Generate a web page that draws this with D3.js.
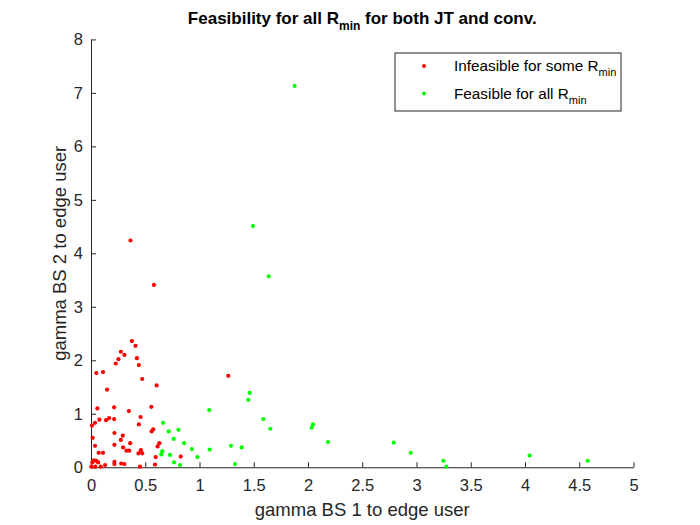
<!DOCTYPE html>
<html>
<head>
<meta charset="utf-8">
<script src="https://cdn.jsdelivr.net/npm/d3@7"></script>
<style>
  body { margin: 0; background: #fff; }
  text { font-family: "Liberation Sans", Arial, sans-serif; }
</style>
</head>
<body>
<svg id="chart" width="700" height="525"></svg>
<script>
// infeasible points (red)
const infeasX = [0.377, 0.41, 0.275, 0.308, 0.253, 0.423, 0.228, 0.441, 0.049, 0.111, 0.472, 1.265, 0.605, 0.148,
  0.059, 0.213, 0.349, 0.556, 0.457, 0.009, 0.037, 0.077, 0.139, 0.167, 0.213, 0.441, 0.216, 0.015, 0.293, 0.275,
  0.559, 0.574, 0.361, 0.63, 0.614, 0.037, 0.216, 0.296, 0.327, 0.352, 0.46, 0.438, 0.472, 0.071, 0.111, 0.596,
  0.827, 0.028, 0.049, 0.012, 0.065, 0.216, 0.216, 0.278, 0.308, 0.13, 0.003, 0.04, 0.09, 0.451, 0.59, 0.364, 0.58];
const infeasY = [2.36, 2.27, 2.16, 2.10, 2.02, 2.04, 1.94, 1.91, 1.76, 1.78, 1.65, 1.71, 1.53, 1.45,
  1.10, 1.12, 1.05, 1.13, 0.94, 0.78, 0.83, 0.89, 0.88, 0.92, 0.90, 0.80, 0.64, 0.55, 0.59, 0.51,
  0.67, 0.71, 0.45, 0.45, 0.39, 0.40, 0.42, 0.37, 0.31, 0.31, 0.32, 0.26, 0.26, 0.27, 0.27, 0.19,
  0.20, 0.13, 0.12, 0.09, 0.09, 0.10, 0.06, 0.07, 0.06, 0.04, 0.01, 0.01, 0.01, 0.01, 0.05, 4.24, 3.41];

// feasible points (green)
const feasX = [0.664, 0.716, 0.806, 0.762, 0.858, 0.929, 0.981, 0.657, 0.648, 0.728, 0.765, 0.821, 1.090, 1.094,
  1.290, 1.389, 1.327, 1.450, 1.463, 1.588, 1.653, 2.034, 2.046, 2.184, 2.790, 2.947, 3.247, 3.275, 4.043, 4.578,
  1.877, 1.493, 1.638];
const feasY = [0.83, 0.67, 0.70, 0.53, 0.45, 0.34, 0.19, 0.30, 0.24, 0.23, 0.09, 0.04, 1.07, 0.33,
  0.40, 0.37, 0.06, 1.26, 1.39, 0.90, 0.72, 0.74, 0.80, 0.47, 0.46, 0.27, 0.12, 0.01, 0.22, 0.12,
  7.13, 4.51, 3.57];

const xTicks = d3.range(0, 5.01, 0.5);
const yTicks = d3.range(0, 9, 1);

const margin = {left: 91, top: 39.4, right: 66.5, bottom: 57.75};
const width = 700 - margin.left - margin.right;
const height = 525 - margin.top - margin.bottom;
const axisCol = "#262626";

const svg = d3.select("#chart");
const g = svg.append("g").attr("transform", `translate(${margin.left},${margin.top})`);

const x = d3.scaleLinear().domain([0, 5]).range([0, width]);
const y = d3.scaleLinear().domain([0, 8]).range([height, 0]);

const fmt = d => d3.format("~g")(d);

const xAxis = g.append("g").attr("transform", `translate(0,${height})`)
  .call(d3.axisBottom(x).tickValues(xTicks).tickFormat(fmt).tickSizeInner(-5).tickSizeOuter(0).tickPadding(12));
const yAxis = g.append("g")
  .call(d3.axisLeft(y).tickValues(yTicks).tickFormat(fmt).tickSizeInner(-5).tickSizeOuter(0).tickPadding(8));

[xAxis, yAxis].forEach(a => {
  a.select(".domain").attr("stroke", axisCol).attr("stroke-width", 1);
  a.selectAll(".tick line").attr("stroke", axisCol);
  a.selectAll(".tick text").attr("fill", axisCol).style("font-size", "16.5px")
    .style("font-family", "'Liberation Sans', Arial, sans-serif");
});

const infeas = infeasX.map((v, i) => ({x: v, y: infeasY[i]}));
const feas = feasX.map((v, i) => ({x: v, y: feasY[i]}));

g.append("g").selectAll("circle").data(infeas).join("circle")
  .attr("cx", d => x(d.x)).attr("cy", d => y(d.y)).attr("r", 2.1).attr("fill", "#ff0000");
g.append("g").selectAll("circle").data(feas).join("circle")
  .attr("cx", d => x(d.x)).attr("cy", d => y(d.y)).attr("r", 2.1).attr("fill", "#00ff00");

// title
const title = svg.append("text")
  .attr("x", margin.left + width / 2).attr("y", 24)
  .attr("text-anchor", "middle").attr("font-weight", "bold").attr("font-size", 17).attr("fill", "#000");
title.append("tspan").text("Feasibility for all R");
title.append("tspan").attr("font-size", 12).attr("dy", 6).text("min");
title.append("tspan").attr("dy", -6).text(" for both JT and conv.");

// axis labels
svg.append("text")
  .attr("x", margin.left + width / 2).attr("y", 516)
  .attr("text-anchor", "middle").attr("font-size", 18.5).attr("fill", axisCol)
  .text("gamma BS 1 to edge user");
svg.append("text")
  .attr("transform", `translate(66,${margin.top + height / 2}) rotate(-90)`)
  .attr("text-anchor", "middle").attr("font-size", 18.5).attr("fill", axisCol)
  .text("gamma BS 2 to edge user");

// legend
const legendItems = [
  {label: "Infeasible for some R", color: "#ff0000"},
  {label: "Feasible for all R", color: "#00ff00"}
];
const lg = svg.append("g").attr("transform", "translate(395,53)");
lg.append("rect").attr("width", 226).attr("height", 58)
  .attr("fill", "#fff").attr("stroke", axisCol).attr("stroke-width", 1);
const rows = lg.selectAll("g.row").data(legendItems).join("g")
  .attr("class", "row")
  .attr("transform", (d, i) => `translate(0,${13 + i * 27.5})`);
rows.append("circle").attr("cx", 29).attr("cy", 0).attr("r", 2).attr("fill", d => d.color);
const lt = rows.append("text").attr("x", 59).attr("y", 5).attr("font-size", 15.3).attr("fill", "#000");
lt.append("tspan").text(d => d.label);
lt.append("tspan").attr("font-size", 11).attr("dy", 5).text("min");
</script>
</body>
</html>
